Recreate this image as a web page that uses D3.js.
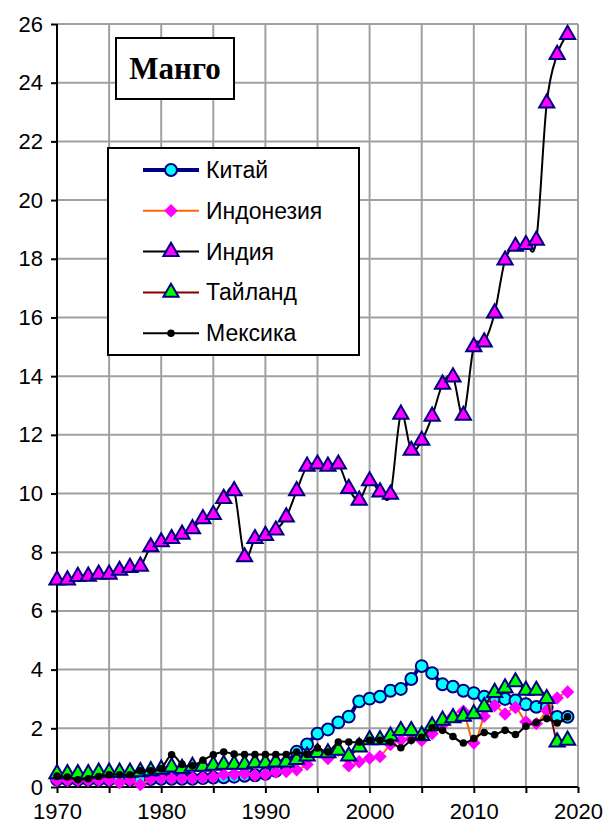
<!DOCTYPE html>
<html>
<head>
<meta charset="utf-8">
<script src="https://cdn.jsdelivr.net/npm/d3@7"></script>
<style>
  body { margin: 0; background: #fff; }
</style>
</head>
<body>
<script>
// years 1970..2019
const years = d3.range(1970, 2020);

const china = [0.25,0.25,0.25,0.25,0.25,0.25,0.25,0.25,0.25,0.27,
  0.28,0.28,0.28,0.28,0.3,0.32,0.33,0.35,0.38,0.4,
  0.45,0.55,0.8,1.2,1.45,1.82,1.96,2.2,2.4,2.92,
  3.01,3.08,3.28,3.34,3.68,4.12,3.88,3.5,3.42,3.28,
  3.2,3.08,3.04,3.0,2.95,2.82,2.73,2.72,2.39,2.39];
const indonesia = [0.23,0.23,0.23,0.23,0.23,0.23,0.15,0.23,0.08,0.28,
  0.3,0.3,0.3,0.3,0.32,0.34,0.43,0.43,0.45,0.4,
  0.43,0.51,0.53,0.59,0.77,1.2,0.97,1.25,0.72,0.86,
  0.98,1.04,1.45,1.6,1.65,1.59,1.82,2.1,2.41,2.58,
  1.5,2.41,2.78,2.49,2.71,2.22,2.16,2.61,3.03,3.24];
const india = [7.05,7.05,7.17,7.18,7.25,7.25,7.38,7.48,7.52,8.18,
  8.35,8.46,8.61,8.8,9.14,9.28,9.83,10.09,7.84,8.46,
  8.57,8.75,9.2,10.09,10.93,11.0,10.93,11.0,10.17,9.77,
  10.43,10.05,9.97,12.7,11.47,11.81,12.63,13.72,13.97,12.66,
  15.0,15.16,16.15,17.95,18.42,18.48,18.63,23.3,24.96,25.64];
const thailand = [0.45,0.45,0.45,0.45,0.5,0.5,0.5,0.5,0.52,0.55,
  0.6,0.68,0.63,0.7,0.7,0.74,0.77,0.77,0.77,0.82,
  0.82,0.85,0.85,0.93,1.05,1.17,1.16,1.25,1.05,1.36,
  1.61,1.61,1.73,1.92,1.92,1.75,2.08,2.27,2.36,2.41,
  2.49,2.73,3.22,3.37,3.58,3.29,3.29,3.01,1.53,1.59];
const mexico = [0.37,0.34,0.25,0.28,0.36,0.42,0.42,0.42,0.55,0.55,
  0.62,1.1,0.77,0.72,0.91,1.1,1.19,1.12,1.11,1.11,
  1.11,1.11,1.11,1.19,1.11,1.33,1.19,1.53,1.53,1.53,
  1.59,1.59,1.53,1.34,1.59,1.69,2.02,1.93,1.72,1.5,
  1.65,1.86,1.78,1.93,1.79,2.07,2.2,2.33,2.18,2.39];

const seriesNames = ["Китай", "Индонезия", "Индия", "Тайланд", "Мексика"];
const yTicks = d3.range(0, 27, 2);
const xTicks = d3.range(1970, 2021, 5);
const xLabels = d3.range(1970, 2021, 10);
const title = "Манго";

const sans = "Arial, 'Liberation Sans', sans-serif";
const W = 608, H = 830;
const svg = d3.select("body").append("svg").attr("width", W).attr("height", H);

const x = d3.scaleLinear().domain([1970, 2020]).range([57, 578]);
const y = d3.scaleLinear().domain([0, 26]).range([787, 24]);

// grid
const grid = svg.append("g").attr("stroke", "#a0a0a0").attr("stroke-width", 2);
grid.selectAll(".gx").data(xTicks.slice(1)).enter().append("line")
  .attr("x1", d => x(d)).attr("x2", d => x(d)).attr("y1", y(0)).attr("y2", y(26));
grid.selectAll(".gy").data(yTicks.slice(1)).enter().append("line")
  .attr("x1", x(1970)).attr("x2", x(2020)).attr("y1", d => y(d)).attr("y2", d => y(d));

// axes
const yAxis = svg.append("g").attr("transform", `translate(${x(1970)},0)`)
  .call(d3.axisLeft(y).tickValues(yTicks).tickSize(6).tickPadding(8));
const xAxis = svg.append("g").attr("transform", `translate(0,${y(0)})`)
  .call(d3.axisBottom(x).tickValues(xTicks).tickSize(6).tickPadding(6)
    .tickFormat(d => xLabels.includes(d) ? d : ""));
[yAxis, xAxis].forEach(a => {
  a.attr("font-family", null).attr("font-size", null);
  a.select(".domain").attr("stroke", "#000").attr("stroke-width", 2);
  a.selectAll(".tick line").attr("stroke", "#000").attr("stroke-width", 2);
  a.selectAll("text").style("font-size", "22px").style("font-family", sans).attr("fill", "#000");
});
xAxis.select(".domain").attr("d", `M${x(1970)},0H${x(2020)}`);
yAxis.select(".domain").attr("d", `M0,${y(0)}V${y(26)}`);
xAxis.selectAll("text").attr("dy", "0.9em");

const curve = d3.curveCardinal.tension(0);
const line = d3.line().x((d, i) => x(years[i])).y(d => y(d)).curve(curve);

const sym = {
  circle: d3.symbol().type(d3.symbolCircle).size(110),
  diamond: d3.symbol().type(d3.symbolSquare).size(90),
  triangle: d3.symbol().type(d3.symbolTriangle).size(100),
  dot: d3.symbol().type(d3.symbolCircle).size(45)
};

const series = [
  { name: seriesNames[0], data: china, line: "#000080", lw: 4, sym: "circle", fill: "#00ffff", stroke: "#000080", sw: 2 },
  { name: seriesNames[1], data: indonesia, line: "#ff6600", lw: 2, sym: "diamond", fill: "#ff00ff", stroke: "none", sw: 0 },
  { name: seriesNames[2], data: india, line: "#000000", lw: 2, sym: "triangle", fill: "#ff00ff", stroke: "#000080", sw: 2 },
  { name: seriesNames[3], data: thailand, line: "#800000", lw: 2, sym: "triangle", fill: "#00ff00", stroke: "#000080", sw: 2 },
  { name: seriesNames[4], data: mexico, line: "#000000", lw: 2, sym: "dot", fill: "#000000", stroke: "none", sw: 0 }
];

function marker(g, s, px, py) {
  return g.append("path").attr("d", sym[s.sym]())
    .attr("fill", s.fill).attr("stroke", s.stroke).attr("stroke-width", s.sw)
    .attr("transform", `translate(${px},${py})` + (s.sym === "diamond" ? " rotate(45)" : ""));
}

series.forEach(s => {
  const g = svg.append("g");
  g.append("path").datum(s.data).attr("d", line)
    .attr("fill", "none").attr("stroke", s.line).attr("stroke-width", s.lw);
  s.data.forEach((v, i) => marker(g, s, x(years[i]), y(v)));
});

// title box
svg.append("rect").attr("x", 116).attr("y", 38).attr("width", 118).attr("height", 61)
  .attr("fill", "#fff").attr("stroke", "#000").attr("stroke-width", 2);
svg.append("text").attr("x", 175).attr("y", 79).attr("text-anchor", "middle")
  .style("font-family", "'Times New Roman', 'Liberation Serif', serif")
  .style("font-weight", "bold").style("font-size", "31px").text(title);

// legend
const lg = svg.append("g");
lg.append("rect").attr("x", 108).attr("y", 148).attr("width", 251).attr("height", 207)
  .attr("fill", "#fff").attr("stroke", "#000").attr("stroke-width", 2);
series.forEach((s, i) => {
  const ly = 170 + i * 40.8;
  lg.append("line").attr("x1", 143).attr("x2", 199).attr("y1", ly).attr("y2", ly)
    .attr("stroke", s.line).attr("stroke-width", s.lw);
  marker(lg, s, 171, ly);
  lg.append("text").attr("x", 206).attr("y", ly + 8)
    .style("font-family", sans).style("font-size", "23px").text(s.name);
});
</script>
</body>
</html>
